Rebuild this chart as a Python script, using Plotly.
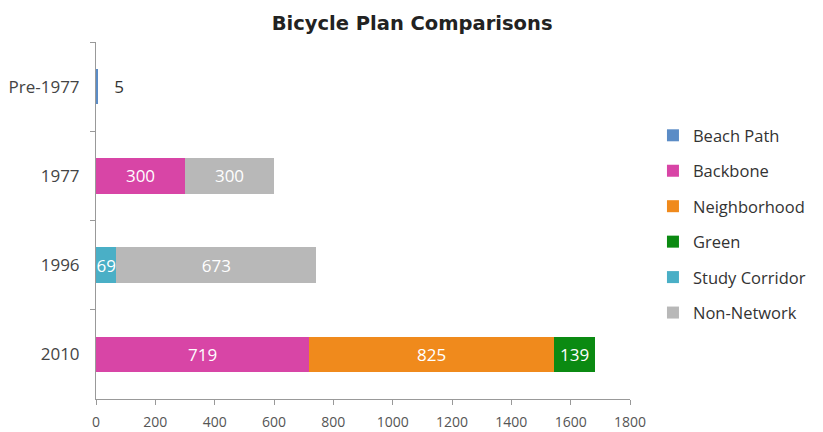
import plotly.graph_objects as go

categories = ["Pre-1977", "1977", "1996", "2010"]
beach_path = [5, None, None, None]
backbone = [None, 300, None, 719]
neighborhood = [None, None, None, 825]
green = [None, None, None, 139]
study_corridor = [None, None, 69, None]
non_network = [None, 300, 673, None]

series = [
    ("Beach Path", beach_path, "#5B8CC6", "outside"),
    ("Backbone", backbone, "#D845A6", "inside"),
    ("Neighborhood", neighborhood, "#F08A1C", "inside"),
    ("Green", green, "#0B8A12", "inside"),
    ("Study Corridor", study_corridor, "#4AAFC6", "inside"),
    ("Non-Network", non_network, "#B8B8B8", "inside"),
]

FONT = "Open Sans"
fig = go.Figure()
for i, (name, vals, color, pos) in enumerate(series):
    pad = "\u00a0\u00a0\u00a0" if pos == "outside" else ""
    fig.add_trace(go.Bar(
        name=name, y=categories, x=vals, orientation="h",
        marker=dict(color=color, line=dict(width=0)),
        text=[("" if v is None else pad + str(v)) for v in vals],
        textposition=pos,
        insidetextanchor="middle",
        textfont=dict(color="#333333" if pos == "outside" else "white", size=17, family=FONT),
        constraintext="none",
        cliponaxis=False,
        legendgroup=f"g{i}",
    ))

fig.update_layout(
    width=823, height=432,
    barmode="stack", bargap=0.6,
    plot_bgcolor="white", paper_bgcolor="white",
    margin=dict(l=88, r=201, t=34, b=41),
    title=dict(text="<b>Bicycle Plan Comparisons</b>", x=0.491, xanchor="center",
               y=0.965, yanchor="middle", font=dict(size=19.5, color="#222222", family="DejaVu Sans")),
    font=dict(family=FONT, color="#444444", size=13),
    legend=dict(x=1.043, xanchor="left", y=0.49, yanchor="middle",
                traceorder="grouped", tracegroupgap=11,
                font=dict(size=16.5, color="#333333", family=FONT),
                itemwidth=30),
    uniformtext=dict(mode=False),
)
fig.update_xaxes(range=[0, 1800], dtick=200, tick0=0, showgrid=False, zeroline=False,
                 showline=True, linecolor="#999999", linewidth=1, automargin=False,
                 ticks="outside", ticklen=5, tickcolor="#999999", ticklabelstandoff=5,
                 tickfont=dict(size=14, color="#555555"))
fig.update_yaxes(categoryorder="array", categoryarray=categories, autorange="reversed",
                 showgrid=False, zeroline=False, showline=True, linecolor="#999999", linewidth=1,
                 ticks="outside", ticklen=5, tickcolor="#999999", tickson="boundaries",
                 ticklabelstandoff=12, automargin=False,
                 tickfont=dict(size=17, color="#444444"))

fig.write_html("out.html")
